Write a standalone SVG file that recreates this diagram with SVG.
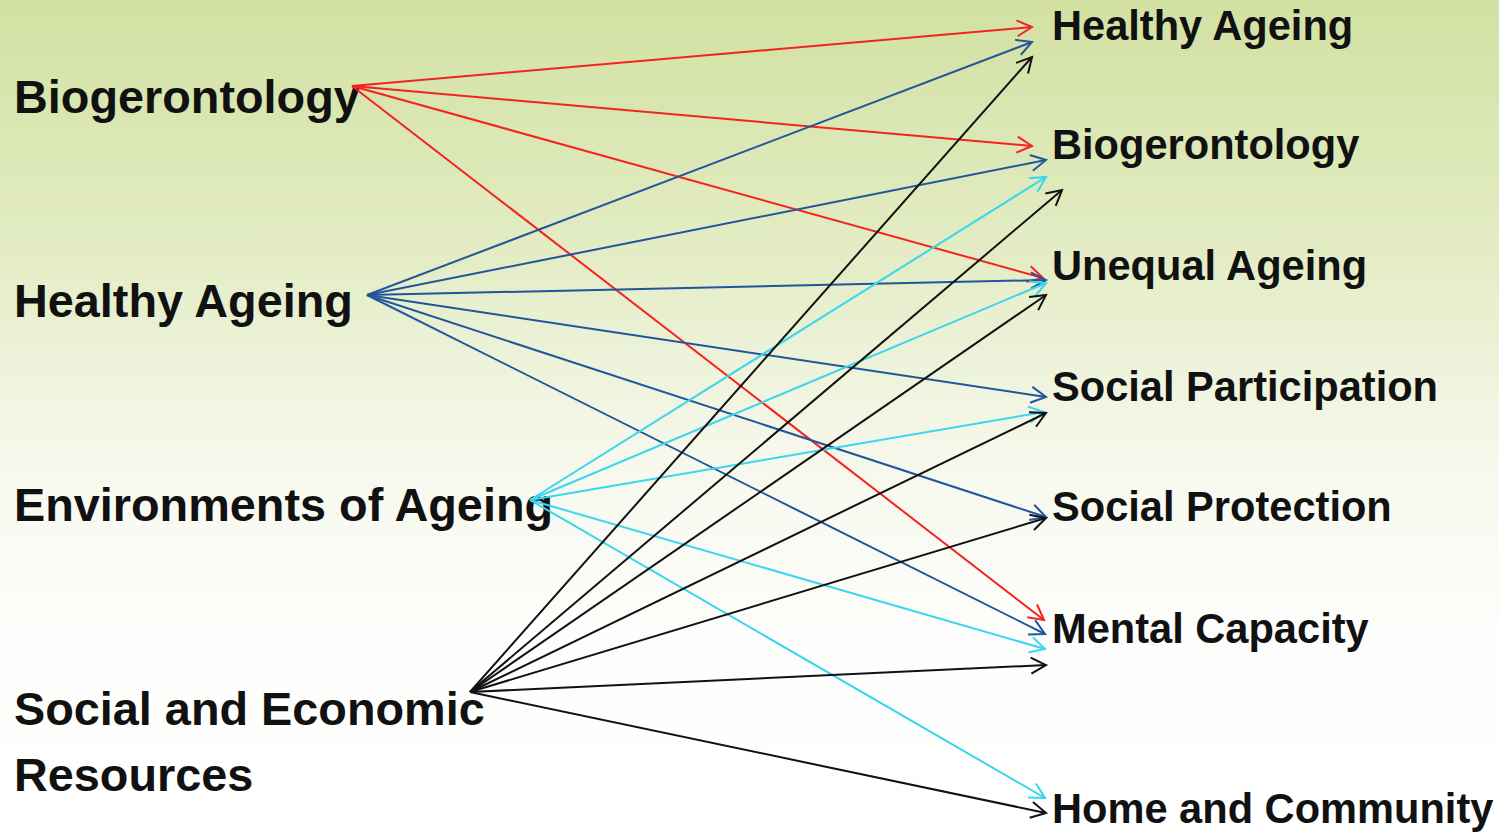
<svg xmlns="http://www.w3.org/2000/svg" width="1499" height="832" viewBox="0 0 1499 832">
<defs>
<linearGradient id="bg" x1="0" y1="0" x2="0" y2="1">
<stop offset="0" stop-color="#d2e1a2"/>
<stop offset="0.3" stop-color="#e3ecc4"/>
<stop offset="0.55" stop-color="#f6f8ec"/>
<stop offset="0.75" stop-color="#fdfdfb"/>
<stop offset="1" stop-color="#ffffff"/>
</linearGradient>
<marker id="aR" markerUnits="userSpaceOnUse" markerWidth="20" markerHeight="20" refX="16" refY="8" orient="auto" overflow="visible"><path d="M1,0 L16,8 L1,16" fill="none" stroke="#f5231f" stroke-width="2"/></marker>
<marker id="aB" markerUnits="userSpaceOnUse" markerWidth="20" markerHeight="20" refX="16" refY="8" orient="auto" overflow="visible"><path d="M1,0 L16,8 L1,16" fill="none" stroke="#21569a" stroke-width="2"/></marker>
<marker id="aC" markerUnits="userSpaceOnUse" markerWidth="20" markerHeight="20" refX="16" refY="8" orient="auto" overflow="visible"><path d="M1,0 L16,8 L1,16" fill="none" stroke="#3ad6ee" stroke-width="2"/></marker>
<marker id="aK" markerUnits="userSpaceOnUse" markerWidth="20" markerHeight="20" refX="16" refY="8" orient="auto" overflow="visible"><path d="M1,0 L16,8 L1,16" fill="none" stroke="#111111" stroke-width="2"/></marker>
</defs>
<style>
text{font-family:"Liberation Sans",Arial,Helvetica,sans-serif;font-weight:bold;fill:#111;}
.src{font-size:46.8px;}
.dst{font-size:41.6px;}
.r{stroke:#f5231f;stroke-width:2;fill:none;marker-end:url(#aR);}
.b{stroke:#21569a;stroke-width:2;fill:none;marker-end:url(#aB);}
.c{stroke:#3ad6ee;stroke-width:2;fill:none;marker-end:url(#aC);}
.k{stroke:#111111;stroke-width:2;fill:none;marker-end:url(#aK);}
</style>
<rect x="0" y="0" width="1499" height="832" fill="url(#bg)"/>
<g id="src-biogerontology"><text class="src" x="14" y="113">Biogerontology</text></g>
<g id="src-healthy-ageing"><text class="src" x="14" y="317">Healthy Ageing</text></g>
<g id="src-environments"><text class="src" x="14" y="521">Environments of Ageing</text></g>
<g id="src-social-economic"><text class="src" x="14" y="725">Social and Economic</text><text class="src" x="14" y="791">Resources</text></g>
<g id="dst-healthy-ageing"><text class="dst" x="1052" y="40">Healthy Ageing</text></g>
<g id="dst-biogerontology"><text class="dst" x="1052" y="159">Biogerontology</text></g>
<g id="dst-unequal-ageing"><text class="dst" x="1052" y="280">Unequal Ageing</text></g>
<g id="dst-social-participation"><text class="dst" x="1052" y="401">Social Participation</text></g>
<g id="dst-social-protection"><text class="dst" x="1052" y="521">Social Protection</text></g>
<g id="dst-mental-capacity"><text class="dst" x="1052" y="643">Mental Capacity</text></g>
<g id="dst-home-community"><text class="dst" x="1052" y="823">Home and Community</text></g>
<g id="connectors">
<line class="r" x1="352" y1="86" x2="1032" y2="27"/>
<line class="r" x1="352" y1="86" x2="1032" y2="146"/>
<line class="r" x1="352" y1="86" x2="1043" y2="278"/>
<line class="r" x1="352" y1="86" x2="1044" y2="620"/>
<line class="b" x1="367" y1="295" x2="1032" y2="42"/>
<line class="b" x1="367" y1="295" x2="1046" y2="160"/>
<line class="b" x1="367" y1="295" x2="1046" y2="280"/>
<line class="b" x1="367" y1="295" x2="1046" y2="397"/>
<line class="b" x1="367" y1="295" x2="1046" y2="517"/>
<line class="b" x1="367" y1="295" x2="1045" y2="634"/>
<line class="c" x1="530" y1="500" x2="1046" y2="177"/>
<line class="c" x1="530" y1="500" x2="1046" y2="283"/>
<line class="c" x1="530" y1="500" x2="1044" y2="412"/>
<line class="c" x1="530" y1="500" x2="1045" y2="649"/>
<line class="c" x1="530" y1="500" x2="1045" y2="798"/>
<line class="k" x1="470" y1="692" x2="1032" y2="57"/>
<line class="k" x1="470" y1="692" x2="1062" y2="190"/>
<line class="k" x1="470" y1="692" x2="1046" y2="295"/>
<line class="k" x1="470" y1="692" x2="1046" y2="413"/>
<line class="k" x1="470" y1="692" x2="1046" y2="518"/>
<line class="k" x1="470" y1="692" x2="1046" y2="665"/>
<line class="k" x1="470" y1="692" x2="1046" y2="813"/>
</g>
</svg>
